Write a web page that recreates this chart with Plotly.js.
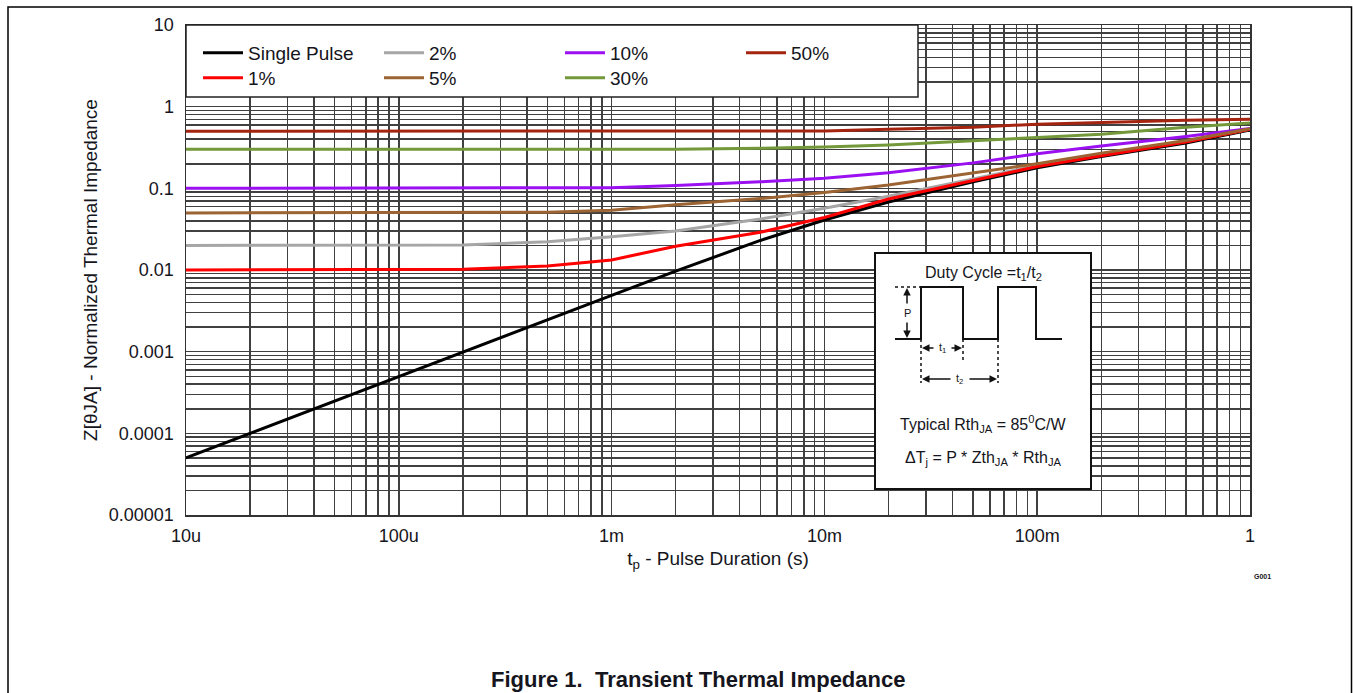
<!DOCTYPE html>
<html>
<head>
<meta charset="utf-8">
<script src="https://cdn.plot.ly/plotly-3.0.1.min.js"></script>
<style>html,body{margin:0;padding:0;background:#fff;}#chart{width:1353px;height:693px;}</style>
</head>
<body>
<div id="chart"></div>
<script>
// ---- data ----
const pulseDuration = [1e-5, 2e-5, 5e-5, 1e-4, 2e-4, 5e-4, 1e-3, 2e-3, 5e-3, 1e-2, 2e-2, 5e-2, 1e-1, 2e-1, 5e-1, 1];
const singlePulse = [5e-5, 1e-4, 2.5e-4, 5e-4, 1e-3, 2.5e-3, 4.9e-3, 9.7e-3, 0.023, 0.041, 0.068, 0.12, 0.178, 0.245, 0.36, 0.52];
const duty1  = [0.01, 0.01, 0.01, 0.0101, 0.0102, 0.0112, 0.0133, 0.0195, 0.029, 0.044, 0.074, 0.125, 0.185, 0.25, 0.37, 0.53];
const duty2  = [0.02, 0.02, 0.02, 0.02, 0.0202, 0.0222, 0.0255, 0.03, 0.042, 0.057, 0.08, 0.13, 0.19, 0.255, 0.375, 0.53];
const duty5  = [0.05, 0.05, 0.05, 0.05, 0.05, 0.051, 0.054, 0.063, 0.075, 0.089, 0.11, 0.155, 0.2, 0.27, 0.385, 0.535];
const duty10 = [0.1, 0.1, 0.1, 0.1, 0.1, 0.1, 0.102, 0.108, 0.12, 0.133, 0.155, 0.205, 0.265, 0.33, 0.43, 0.54];
const duty30 = [0.3, 0.3, 0.3, 0.3, 0.3, 0.3, 0.3, 0.302, 0.31, 0.32, 0.34, 0.38, 0.42, 0.46, 0.56, 0.63];
const duty50 = [0.5, 0.5, 0.5, 0.5, 0.5, 0.5, 0.5, 0.5, 0.5, 0.505, 0.53, 0.56, 0.61, 0.64, 0.68, 0.70];

const xTickVals = [1e-5, 1e-4, 1e-3, 1e-2, 1e-1, 1];
const xTickText = ['10u', '100u', '1m', '10m', '100m', '1'];
const yTickVals = [1e-5, 1e-4, 1e-3, 1e-2, 1e-1, 1, 10];
const yTickText = ['0.00001', '0.0001', '0.001', '0.01', '0.1', '1', '10'];

const seriesNames = ['Single Pulse', '2%', '10%', '50%', '1%', '5%', '30%'];
const seriesData  = [singlePulse, duty2, duty10, duty50, duty1, duty5, duty30];
const seriesColors = ['#000000', '#a6a6a6', '#9a10f0', '#a52410', '#ff0000', '#9c6432', '#74993a'];
const seriesLegendRow = ['legend', 'legend', 'legend', 'legend', 'legend2', 'legend2', 'legend2'];

// ---- layout helpers (plot area in pixels) ----
const L = 186, R = 1250, T = 25, B = 515;
const px = x => (x - L) / (R - L);
const py = y => (B - y) / (B - T);

function minorVals(k0, k1) {
  const v = [];
  for (let k = k0; k <= k1; k++) for (let m = 2; m <= 9; m++) v.push(m * Math.pow(10, k));
  return v;
}

const FONT = 'Arial, "Liberation Sans", sans-serif';
const TXT = '#151520';

const traces = seriesNames.map((n, i) => ({
  x: pulseDuration, y: seriesData[i], name: n, type: 'scatter', mode: 'lines',
  legend: seriesLegendRow[i],
  line: {color: seriesColors[i], width: 3}
}));

const gridC = '#404040';
const GW = 1.5;
const shapes = [
  // outer frame
  {type: 'rect', xref: 'paper', yref: 'paper', x0: px(8), x1: px(1351.5), y0: py(7), y1: py(740), line: {color: '#000', width: 1.5}, fillcolor: 'rgba(0,0,0,0)', layer: 'above'},
  // legend box
  {type: 'rect', xref: 'paper', yref: 'paper', x0: px(186), x1: px(918), y0: py(25), y1: py(97), line: {color: '#222', width: 1.5}, fillcolor: '#fff', layer: 'above'},
  // inset box
  {type: 'rect', xref: 'paper', yref: 'paper', x0: px(875), x1: px(1091), y0: py(253), y1: py(489), line: {color: '#111', width: 2}, fillcolor: '#fff', layer: 'above'},
  // waveform
  {type: 'path', xref: 'paper', yref: 'paper', layer: 'above', line: {color: '#111', width: 2},
   path: 'M' + [[895,339],[921,339],[921,287],[963,287],[963,339],[998,339],[998,287],[1036,287],[1036,339],[1062,339]].map(p => px(p[0]) + ',' + py(p[1])).join(' L')},
  // dotted guides
  {type: 'line', xref: 'paper', yref: 'paper', layer: 'above', x0: px(895), x1: px(921), y0: py(287), y1: py(287), line: {color: '#111', width: 1.5, dash: 'dot'}},
  {type: 'line', xref: 'paper', yref: 'paper', layer: 'above', x0: px(921), x1: px(921), y0: py(339), y1: py(383), line: {color: '#111', width: 1.5, dash: 'dot'}},
  {type: 'line', xref: 'paper', yref: 'paper', layer: 'above', x0: px(963), x1: px(963), y0: py(339), y1: py(361), line: {color: '#111', width: 1.5, dash: 'dot'}},
  {type: 'line', xref: 'paper', yref: 'paper', layer: 'above', x0: px(998), x1: px(998), y0: py(339), y1: py(383), line: {color: '#111', width: 1.5, dash: 'dot'}}
];

function arrow(xh, yh, xt, yt) {
  return {xref: 'paper', yref: 'paper', x: px(xh), y: py(yh), ax: xt - xh, ay: yt - yh, text: '', showarrow: true,
          arrowhead: 2, arrowsize: 1, arrowwidth: 1.5, arrowcolor: '#111', standoff: 0, startstandoff: 0};
}
function label(x, y, text, size, extra) {
  return Object.assign({xref: 'paper', yref: 'paper', x: px(x), y: py(y), text: text, showarrow: false,
          xanchor: 'center', yanchor: 'middle', font: {family: FONT, size: size, color: TXT}}, extra || {});
}

const annotations = [
  label(983, 273, 'Duty Cycle =t<sub>1</sub>/t<sub>2</sub>', 16),
  label(907, 313, 'P', 11),
  arrow(907, 288, 907, 305),
  arrow(907, 338, 907, 321),
  label(942, 348, 't<sub>1</sub>', 11),
  arrow(922, 348, 935, 348),
  arrow(962, 348, 950, 348),
  label(960, 379, 't<sub>2</sub>', 11),
  arrow(922, 379, 952, 379),
  arrow(997, 379, 968, 379),
  label(983, 424, 'Typical Rth<sub>JA</sub> = 85<sup>0</sup>C/W', 16),
  label(983, 458, '\u0394T<sub>j</sub> = P * Zth<sub>JA</sub> * Rth<sub>JA</sub>', 16),
  label(1262, 576, '<b>G001</b>', 7),
  label(698, 679, '<b>Figure 1.  Transient Thermal Impedance</b>', 22)
];

const axisCommon = {
  type: 'log', showline: true, mirror: true, linecolor: '#333', linewidth: 1.5,
  showgrid: true, gridcolor: gridC, gridwidth: GW, zeroline: false, ticks: '',
  tickmode: 'array', tickfont: {family: FONT, size: 18, color: TXT}
};

const legendCommon = {orientation: 'h', xanchor: 'left', yanchor: 'top',
  bgcolor: 'rgba(0,0,0,0)', borderwidth: 0, entrywidth: 126, entrywidthmode: 'pixels',
  font: {family: FONT, size: 19, color: TXT}, itemwidth: 40, tracegroupgap: 0};

const layout = {
  width: 1353, height: 693,
  margin: {l: L, r: 1353 - R, t: T, b: 693 - B},
  paper_bgcolor: '#fff', plot_bgcolor: '#fff',
  font: {family: FONT, color: TXT},
  showlegend: true,
  legend: Object.assign({}, legendCommon, {x: px(198), y: py(34)}),
  legend2: Object.assign({}, legendCommon, {x: px(198), y: py(59)}),
  xaxis: Object.assign({}, axisCommon, {
    range: [-5, 0], tickvals: xTickVals, ticktext: xTickText, ticklabelstandoff: 4,
    minor: {tickmode: 'array', tickvals: minorVals(-5, -1), showgrid: true, gridcolor: gridC, gridwidth: GW, ticks: ''},
    title: {text: 't<sub>p</sub> - Pulse Duration (s)', font: {family: FONT, size: 19, color: TXT}, standoff: 6}
  }),
  yaxis: Object.assign({}, axisCommon, {
    range: [-5, 1], tickvals: yTickVals, ticktext: yTickText, ticklabelstandoff: 7,
    minor: {tickmode: 'array', tickvals: minorVals(-5, 0), showgrid: true, gridcolor: gridC, gridwidth: GW, ticks: ''},
    title: {text: 'Z[\u03b8JA] - Normalized Thermal Impedance', font: {family: FONT, size: 19, color: TXT}, standoff: 6}
  }),
  shapes: shapes,
  annotations: annotations
};

Plotly.newPlot('chart', traces, layout, {staticPlot: true, displayModeBar: false});
</script>
</body>
</html>
